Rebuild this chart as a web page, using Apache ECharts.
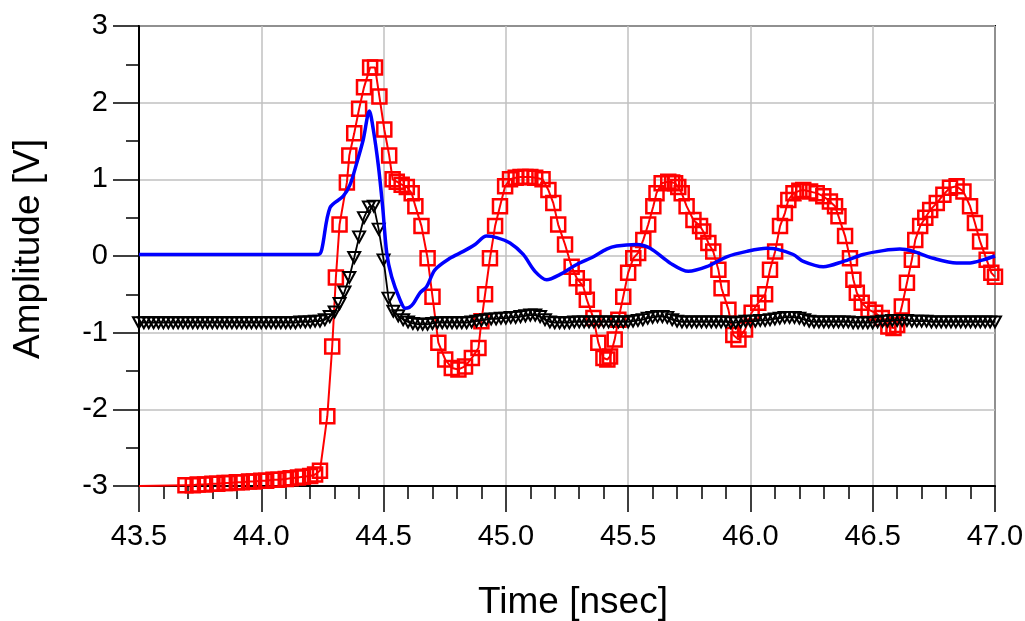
<!DOCTYPE html>
<html>
<head>
<meta charset="utf-8">
<script src="https://cdn.jsdelivr.net/npm/echarts@6/dist/echarts.min.js"></script>
<style>
html,body{margin:0;padding:0;background:#fff;}
#chart{width:1025px;height:621px;}
</style>
</head>
<body>
<div id="chart"></div>
<script>
// Axis settings
const xTicks = {min: 43.5, max: 47.0, step: 0.5};
const yTicks = {min: -3, max: 3, step: 1};
const xTitle = 'Time [nsec]';
const yTitle = 'Amplitude [V]';

// Red trace (square markers): line-only lead-in, then sampled points [time ns, volts]
const redLeadIn = [[43.50, -3.00]];
const redData = [
 [43.69,-2.99],[43.72,-2.99],[43.74,-2.98],[43.77,-2.98],[43.80,-2.97],[43.82,-2.97],
 [43.85,-2.96],[43.87,-2.96],[43.90,-2.95],[43.92,-2.95],[43.95,-2.94],[43.97,-2.94],
 [44.00,-2.93],[44.02,-2.93],[44.05,-2.92],[44.07,-2.92],[44.10,-2.91],[44.12,-2.90],
 [44.15,-2.89],[44.17,-2.88],[44.20,-2.87],[44.22,-2.85],[44.24,-2.80],[44.27,-2.09],
 [44.29,-1.18],[44.305,-0.28],[44.32,0.41],[44.35,0.96],[44.36,1.31],[44.38,1.60],
 [44.40,1.92],[44.42,2.20],[44.445,2.46],[44.465,2.46],[44.483,2.08],[44.503,1.65],
 [44.523,1.31],[44.537,1.00],[44.554,0.97],[44.574,0.93],[44.595,0.90],[44.615,0.82],
 [44.63,0.65],[44.655,0.39],[44.68,-0.03],[44.70,-0.53],[44.724,-1.13],[44.752,-1.35],
 [44.779,-1.46],[44.806,-1.48],[44.833,-1.44],[44.861,-1.33],[44.888,-1.20],[44.90,-0.85],
 [44.915,-0.50],[44.935,-0.03],[44.956,0.39],[44.976,0.65],[44.997,0.91],[45.017,1.00],
 [45.04,1.02],[45.06,1.03],[45.08,1.03],[45.10,1.03],[45.12,1.02],[45.15,1.00],
 [45.174,0.86],[45.194,0.69],[45.214,0.41],[45.242,0.15],[45.269,-0.14],[45.29,-0.29],
 [45.317,-0.40],[45.331,-0.57],[45.358,-0.81],[45.378,-1.13],[45.399,-1.33],[45.415,-1.35],
 [45.426,-1.31],[45.445,-1.09],[45.46,-0.83],[45.48,-0.53],[45.50,-0.22],[45.521,-0.03],
 [45.541,0.04],[45.562,0.21],[45.582,0.41],[45.603,0.65],[45.616,0.82],[45.637,0.95],
 [45.664,0.97],[45.68,0.96],[45.692,0.95],[45.705,0.90],[45.719,0.82],[45.739,0.65],
 [45.767,0.47],[45.794,0.39],[45.807,0.32],[45.828,0.17],[45.848,0.06],[45.869,-0.18],
 [45.882,-0.42],[45.91,-0.70],[45.93,-1.03],[45.951,-1.09],[45.978,-0.96],[46.005,-0.74],
 [46.032,-0.61],[46.06,-0.50],[46.08,-0.18],[46.101,0.06],[46.121,0.39],[46.141,0.56],
 [46.155,0.73],[46.176,0.82],[46.20,0.85],[46.216,0.86],[46.244,0.84],[46.271,0.82],
 [46.298,0.78],[46.325,0.71],[46.346,0.65],[46.36,0.52],[46.387,0.26],[46.407,-0.03],
 [46.421,-0.31],[46.435,-0.48],[46.455,-0.61],[46.483,-0.70],[46.51,-0.74],[46.537,-0.81],
 [46.564,-0.92],[46.585,-0.94],[46.60,-0.90],[46.619,-0.66],[46.64,-0.35],[46.66,-0.05],
 [46.674,0.21],[46.694,0.39],[46.715,0.50],[46.735,0.60],[46.762,0.69],[46.789,0.80],
 [46.816,0.89],[46.843,0.91],[46.871,0.84],[46.898,0.65],[46.918,0.43],[46.939,0.19],
 [46.966,-0.05],[46.985,-0.22],[47.00,-0.27]
];

// Blue trace (plain line) [time ns, volts]
const blueData = [
 [43.50,0.02],[44.233,0.02],[44.247,0.08],[44.281,0.63],[44.335,0.78],[44.363,0.93],
 [44.39,1.21],[44.417,1.52],[44.442,1.89],[44.458,1.65],[44.479,1.17],[44.496,0.65],
 [44.513,0.04],[44.533,-0.27],[44.567,-0.57],[44.588,-0.68],[44.605,-0.67],[44.622,-0.62],
 [44.649,-0.48],[44.676,-0.40],[44.71,-0.18],[44.771,-0.03],[44.826,0.06],[44.874,0.15],
 [44.921,0.26],[44.962,0.24],[45.017,0.17],[45.071,0.02],[45.119,-0.20],[45.167,-0.31],
 [45.222,-0.24],[45.29,-0.11],[45.358,-0.01],[45.412,0.09],[45.453,0.13],[45.535,0.15],
 [45.59,0.10],[45.671,-0.09],[45.746,-0.20],[45.821,-0.14],[45.903,-0.01],[45.985,0.06],
 [46.066,0.10],[46.107,0.09],[46.175,0.02],[46.216,-0.07],[46.298,-0.14],[46.38,-0.07],
 [46.461,0.02],[46.543,0.07],[46.611,0.09],[46.666,0.06],[46.748,-0.03],[46.843,-0.09],
 [46.898,-0.09],[46.952,-0.05],[47.00,0.00]
];

// Black trace (inverted-triangle markers) [time ns, volts]
const blackData = [
 [43.50,-0.87],[43.52,-0.87],[43.54,-0.87],[43.56,-0.87],[43.58,-0.87],[43.60,-0.87],
 [43.62,-0.87],[43.64,-0.87],[43.66,-0.87],[43.68,-0.87],[43.70,-0.87],[43.72,-0.87],
 [43.74,-0.87],[43.76,-0.87],[43.78,-0.87],[43.80,-0.87],[43.82,-0.87],[43.84,-0.87],
 [43.86,-0.87],[43.88,-0.87],[43.90,-0.87],[43.92,-0.87],[43.94,-0.87],[43.96,-0.87],
 [43.98,-0.87],[44.00,-0.87],[44.02,-0.87],[44.04,-0.87],[44.06,-0.87],[44.08,-0.87],
 [44.10,-0.87],[44.12,-0.87],[44.14,-0.87],[44.16,-0.86],[44.18,-0.86],[44.20,-0.86],
 [44.22,-0.85],[44.24,-0.85],[44.26,-0.83],[44.28,-0.79],[44.30,-0.73],[44.32,-0.62],
 [44.34,-0.47],[44.36,-0.28],[44.38,-0.02],[44.40,0.25],[44.42,0.50],[44.44,0.64],
 [44.46,0.65],[44.48,0.35],[44.50,-0.05],[44.52,-0.55],[44.54,-0.72],[44.56,-0.78],
 [44.58,-0.83],[44.60,-0.86],[44.62,-0.88],[44.64,-0.89],[44.66,-0.89],[44.68,-0.89],
 [44.70,-0.88],[44.72,-0.87],[44.74,-0.87],[44.76,-0.87],[44.78,-0.87],[44.80,-0.87],
 [44.82,-0.87],[44.84,-0.87],[44.86,-0.86],[44.88,-0.85],[44.90,-0.84],[44.92,-0.83],
 [44.94,-0.82],[44.96,-0.82],[44.98,-0.81],[45.00,-0.81],[45.02,-0.80],[45.04,-0.80],
 [45.06,-0.79],[45.08,-0.78],[45.10,-0.77],[45.12,-0.77],[45.14,-0.79],[45.16,-0.83],
 [45.18,-0.86],[45.20,-0.87],[45.22,-0.87],[45.24,-0.87],[45.26,-0.87],[45.28,-0.86],
 [45.30,-0.86],[45.32,-0.86],[45.34,-0.86],[45.36,-0.86],[45.38,-0.86],[45.40,-0.86],
 [45.42,-0.86],[45.44,-0.86],[45.46,-0.86],[45.48,-0.86],[45.50,-0.86],[45.52,-0.85],
 [45.54,-0.84],[45.56,-0.83],[45.58,-0.81],[45.60,-0.80],[45.62,-0.79],[45.64,-0.79],
 [45.66,-0.80],[45.68,-0.83],[45.70,-0.85],[45.72,-0.86],[45.74,-0.86],[45.76,-0.86],
 [45.78,-0.86],[45.80,-0.86],[45.82,-0.86],[45.84,-0.86],[45.86,-0.86],[45.88,-0.86],
 [45.90,-0.86],[45.92,-0.87],[45.94,-0.87],[45.96,-0.86],[45.98,-0.85],[46.00,-0.85],
 [46.02,-0.85],[46.04,-0.84],[46.06,-0.84],[46.08,-0.83],[46.10,-0.82],[46.12,-0.81],
 [46.14,-0.80],[46.16,-0.80],[46.18,-0.80],[46.20,-0.81],[46.22,-0.83],[46.24,-0.85],
 [46.26,-0.86],[46.28,-0.86],[46.30,-0.86],[46.32,-0.86],[46.34,-0.86],[46.36,-0.86],
 [46.38,-0.86],[46.40,-0.86],[46.42,-0.87],[46.44,-0.87],[46.46,-0.87],[46.48,-0.87],
 [46.50,-0.87],[46.52,-0.86],[46.54,-0.85],[46.56,-0.85],[46.58,-0.84],[46.60,-0.84],
 [46.62,-0.84],[46.64,-0.84],[46.66,-0.85],[46.68,-0.85],[46.70,-0.85],[46.72,-0.85],
 [46.74,-0.86],[46.76,-0.86],[46.78,-0.86],[46.80,-0.86],[46.82,-0.86],[46.84,-0.86],
 [46.86,-0.86],[46.88,-0.86],[46.90,-0.86],[46.92,-0.86],[46.94,-0.86],[46.96,-0.86],
 [46.98,-0.86],[47.00,-0.86]
];

const FONT = '"Liberation Sans", Arial, sans-serif';
const chart = echarts.init(document.getElementById('chart'), null, {renderer: 'canvas'});

const redSeriesData = redLeadIn.map(p => ({value: p, symbol: 'none'})).concat(redData);

chart.setOption({
  animation: false,
  backgroundColor: '#ffffff',
  grid: {left: 139, top: 26, right: 30, bottom: 135, outerBoundsMode: 'none', containLabel: false,
         show: true, borderColor: '#000', borderWidth: 2, backgroundColor: 'transparent'},
  xAxis: {
    type: 'value', min: xTicks.min, max: xTicks.max, interval: xTicks.step,
    name: xTitle, nameLocation: 'middle', nameGap: 98,
    nameTextStyle: {fontFamily: FONT, fontSize: 37, color: '#000', padding: [0, 0, 0, 12]},
    axisLine: {show: true, onZero: false, lineStyle: {color: '#000', width: 2}},
    axisTick: {show: true, inside: false, length: 26, lineStyle: {color: '#000', width: 1.5}},
    minorTick: {show: true, splitNumber: 5, length: 13, lineStyle: {color: '#000', width: 1.5}},
    axisLabel: {fontFamily: FONT, fontSize: 29, color: '#000', margin: 36, formatter: v => v.toFixed(1)},
    splitLine: {show: true, lineStyle: {color: '#c0c0c0', width: 1.5}}
  },
  yAxis: {
    type: 'value', min: yTicks.min, max: yTicks.max, interval: yTicks.step,
    name: yTitle, nameLocation: 'middle', nameGap: 92, nameRotate: 90,
    nameTextStyle: {fontFamily: FONT, fontSize: 37, color: '#000', padding: [0, 0, 0, 14]},
    axisLine: {show: true, onZero: false, lineStyle: {color: '#000', width: 2}},
    axisTick: {show: true, inside: false, length: 26, lineStyle: {color: '#000', width: 1.5}},
    minorTick: {show: true, splitNumber: 2, length: 13, lineStyle: {color: '#000', width: 1.5}},
    axisLabel: {fontFamily: FONT, fontSize: 29, color: '#000', margin: 31},
    splitLine: {show: true, lineStyle: {color: '#c0c0c0', width: 1.5}}
  },
  series: [
    {
      type: 'line', data: redSeriesData, z: 2,
      symbol: 'rect', symbolSize: 14,
      lineStyle: {color: '#ff0000', width: 2},
      itemStyle: {color: 'rgba(255,255,255,0)', borderColor: '#ff0000', borderWidth: 2.5}
    },
    {
      type: 'line', data: blackData, z: 3,
      symbol: 'triangle', symbolRotate: 180, symbolSize: [12, 11],
      lineStyle: {color: '#000', width: 1.8},
      itemStyle: {color: 'rgba(255,255,255,0)', borderColor: '#000', borderWidth: 2}
    },
    {
      type: 'line', data: blueData, z: 4, smooth: 0.3,
      symbol: 'none',
      lineStyle: {color: '#0000ff', width: 3.5}
    }
  ]
});
</script>
</body>
</html>
